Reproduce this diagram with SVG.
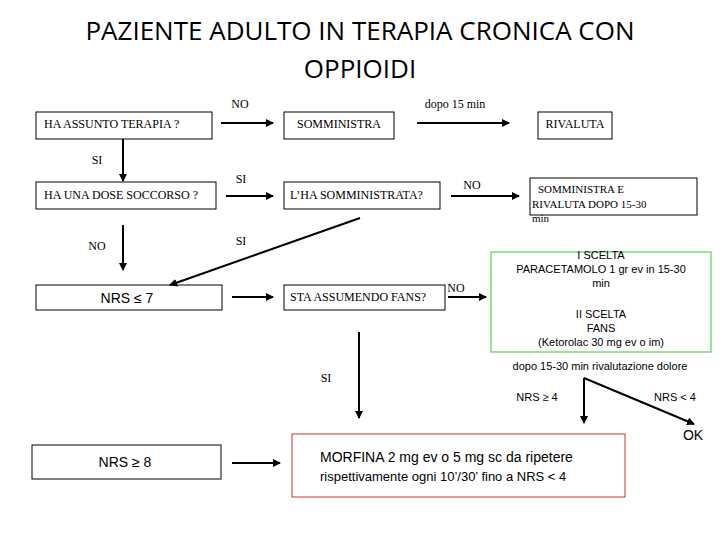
<svg xmlns="http://www.w3.org/2000/svg" width="720" height="540" viewBox="0 0 720 540">
<defs><marker id="a" markerWidth="8" markerHeight="8" refX="7" refY="4" orient="auto" markerUnits="userSpaceOnUse"><path d="M0,0 L8,4 L0,8 z" fill="#000"/></marker></defs>
<style>
.b{fill:#fff;stroke:#000;stroke-width:1}
.s{font-family:"Liberation Serif",serif;font-size:12px;fill:#000}
.t{font-family:"Liberation Serif",serif;font-size:11px;fill:#000}
.n{font-family:"Liberation Sans",sans-serif;font-size:11px;fill:#000}
.c{stroke:#000;stroke-width:2;fill:none;marker-end:url(#a)}
</style>
<rect width="720" height="540" fill="#fff"/>
<text x="360" y="40" text-anchor="middle" font-family="Open Sans,sans-serif" font-size="26">PAZIENTE ADULTO IN TERAPIA CRONICA CON</text>
<text x="360" y="78" text-anchor="middle" font-family="Open Sans,sans-serif" font-size="26">OPPIOIDI</text>
<g id="n1"><rect class="b" x="36" y="112" width="176" height="27"/><text class="s" x="44" y="128">HA ASSUNTO TERAPIA ?</text></g>
<g id="n2"><rect class="b" x="284" y="112" width="110" height="27"/><text class="s" x="339" y="128" text-anchor="middle">SOMMINISTRA</text></g>
<g id="n3"><rect class="b" x="538" y="112" width="74" height="27"/><text class="s" x="575" y="128" text-anchor="middle">RIVALUTA</text></g>
<g id="n4"><rect class="b" x="36" y="182" width="180" height="27"/><text class="s" x="44" y="199">HA UNA DOSE SOCCORSO ?</text></g>
<g id="n5"><rect class="b" x="284" y="182" width="156" height="27"/><text class="s" x="290" y="199">L’HA SOMMINISTRATA?</text></g>
<g id="n6"><rect class="b" x="530" y="178" width="167" height="37"/><text class="t" x="538" y="193">SOMMINISTRA E</text><text class="t" x="532" y="208">RIVALUTA DOPO 15-30</text><text class="t" x="532" y="222">min</text></g>
<g id="n7"><rect class="b" x="36" y="285" width="186" height="25"/><text x="127" y="303" text-anchor="middle" font-family="Liberation Sans,sans-serif" font-size="14">NRS ≤ 7</text></g>
<g id="n8"><rect class="b" x="284" y="285" width="161" height="25"/><text class="s" x="290" y="301">STA ASSUMENDO FANS?</text></g>
<g id="n9"><rect x="491" y="252" width="220" height="100" fill="#fff" stroke="#3c3" stroke-width="1"/>
<text class="n" x="601" y="259" text-anchor="middle">I SCELTA</text>
<text class="n" x="601" y="273" text-anchor="middle">PARACETAMOLO 1 gr ev in 15-30</text>
<text class="n" x="601" y="287" text-anchor="middle">min</text>
<text class="n" x="601" y="318" text-anchor="middle">II SCELTA</text>
<text class="n" x="601" y="332" text-anchor="middle">FANS</text>
<text class="n" x="601" y="346" text-anchor="middle">(Ketorolac 30 mg ev o im)</text></g>
<g id="n10"><rect class="b" x="32" y="445" width="189" height="34"/><text x="125" y="467" text-anchor="middle" font-family="Liberation Sans,sans-serif" font-size="14">NRS ≥ 8</text></g>
<g id="n11"><rect x="292" y="434" width="333" height="63" fill="#fff" stroke="#c33" stroke-width="1"/>
<text x="320" y="462" font-family="Liberation Sans,sans-serif" font-size="14">MORFINA 2 mg ev o 5 mg sc da ripetere</text>
<text x="320" y="481" font-family="Liberation Sans,sans-serif" font-size="13">rispettivamente ogni 10’/30’ fino a NRS &lt; 4</text></g>
<g id="labels">
<text class="s" x="240" y="108" text-anchor="middle">NO</text>
<text class="s" x="455" y="108" text-anchor="middle">dopo 15 min</text>
<text class="s" x="97" y="164" text-anchor="middle">SI</text>
<text class="s" x="241" y="183" text-anchor="middle">SI</text>
<text class="s" x="472" y="189" text-anchor="middle">NO</text>
<text class="s" x="97" y="250" text-anchor="middle">NO</text>
<text class="s" x="241" y="245" text-anchor="middle">SI</text>
<text class="s" x="456" y="292" text-anchor="middle">NO</text>
<text class="s" x="326" y="382" text-anchor="middle">SI</text>
<text class="n" x="600" y="370" text-anchor="middle">dopo 15-30 min rivalutazione dolore</text>
<text class="n" x="537" y="401" text-anchor="middle">NRS ≥ 4</text>
<text class="n" x="675" y="401" text-anchor="middle">NRS &lt; 4</text>
<text x="693" y="440" text-anchor="middle" font-family="Liberation Sans,sans-serif" font-size="14">OK</text>
</g>
<g id="connectors">
<line class="c" x1="221" y1="123" x2="273" y2="123"/>
<line class="c" x1="417" y1="123" x2="509" y2="123"/>
<line class="c" x1="123" y1="139" x2="123" y2="181"/>
<line class="c" x1="226" y1="196" x2="273" y2="196"/>
<line class="c" x1="451" y1="196" x2="519" y2="196"/>
<line class="c" x1="123" y1="225" x2="123" y2="270"/>
<line class="c" x1="360" y1="218" x2="170" y2="285"/>
<line class="c" x1="232" y1="297" x2="273" y2="297"/>
<line class="c" x1="448" y1="297" x2="486" y2="297"/>
<line class="c" x1="359" y1="332" x2="359" y2="418"/>
<line class="c" x1="584" y1="378" x2="584" y2="423"/>
<line class="c" x1="584" y1="378" x2="694" y2="424"/>
<line class="c" x1="232" y1="463" x2="280" y2="463"/>
</g>
</svg>
